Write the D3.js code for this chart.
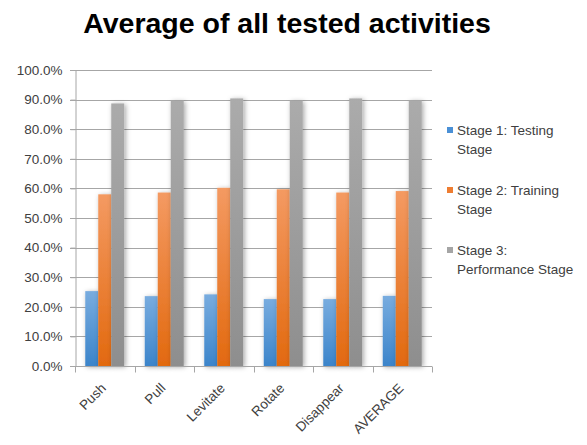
<!DOCTYPE html>
<html>
<head>
<meta charset="utf-8">
<script src="https://cdn.jsdelivr.net/npm/d3@7"></script>
<style>
  body { margin: 0; background: #fff; }
  text { font-family: "Liberation Sans", Arial, sans-serif; }
</style>
</head>
<body>
<div id="chartArea"></div>
<script>
// data
const categories = ["Push", "Pull", "Levitate", "Rotate", "Disappear", "AVERAGE"];
const seriesNames = ["Stage 1: Testing Stage", "Stage 2: Training Stage", "Stage 3: Performance Stage"];
const stage1 = [0.253, 0.236, 0.242, 0.226, 0.226, 0.237];
const stage2 = [0.580, 0.586, 0.602, 0.597, 0.586, 0.591];
const stage3 = [0.887, 0.896, 0.904, 0.896, 0.904, 0.897];
const yTicks = [0, 0.1, 0.2, 0.3, 0.4, 0.5, 0.6, 0.7, 0.8, 0.9, 1.0];
const legendLines = [["Stage 1: Testing", "Stage"], ["Stage 2: Training", "Stage"], ["Stage 3:", "Performance Stage"]];

const allSeries = [stage1, stage2, stage3];

//color pallete
const grid = "#a6a6a6";
const txt = "#404040";
const grads = [
  ["#78acdf", "#3b84ca"],
  ["#f49a62", "#e2690f"],
  ["#ababab", "#8e8e8e"]
];
const legendColors = ["#4a90d6", "#ee7d31", "#a5a5a5"];

const W = 587, H = 445;
const mLeft = 75, mRight = 432, mTop = 70, mBottom = 366;

const svg = d3.select("#chartArea").append("svg")
  .attr("width", W)
  .attr("height", H);

const defs = svg.append("defs");
grads.forEach((g, i) => {
  const lg = defs.append("linearGradient")
    .attr("id", "grad" + i)
    .attr("x1", 0).attr("y1", 0).attr("x2", 0).attr("y2", 1);
  lg.append("stop").attr("offset", "0%").attr("stop-color", g[0]);
  lg.append("stop").attr("offset", "100%").attr("stop-color", g[1]);
});
defs.append("filter")
  .attr("id", "shadow")
  .attr("x", "-60%").attr("y", "-10%").attr("width", "220%").attr("height", "120%")
  .append("feDropShadow")
    .attr("dx", 1.5).attr("dy", 1)
    .attr("stdDeviation", 2.5)
    .attr("flood-color", "#000")
    .attr("flood-opacity", 0.35);

// title
svg.append("text")
  .attr("x", 287)
  .attr("y", 33)
  .attr("text-anchor", "middle")
  .attr("font-size", "28.5px")
  .attr("font-weight", "bold")
  .attr("fill", "#000")
  .text("Average of all tested activities");

// scales
const x0 = d3.scaleBand().domain(categories).range([mLeft, mRight]).padding(0);
const x1 = d3.scaleBand().domain(d3.range(3)).range([0, x0.bandwidth()])
  .paddingInner(0).paddingOuter(0.79);
const y = d3.scaleLinear().domain([0, 1]).range([mBottom, mTop]);

// gridlines
svg.append("g").selectAll("line")
  .data(yTicks)
  .enter()
  .append("line")
    .attr("x1", mLeft - 5)
    .attr("x2", mRight)
    .attr("y1", d => Math.round(y(d)) + 0.5)
    .attr("y2", d => Math.round(y(d)) + 0.5)
    .attr("stroke", grid)
    .attr("stroke-width", 1);

// y axis
const yAxis = svg.append("g")
  .attr("transform", `translate(${mLeft + 0.5},0)`)
  .call(d3.axisLeft(y).tickValues(yTicks).tickFormat(d3.format(".1%")).tickSize(5).tickPadding(8));
yAxis.select(".domain").attr("stroke", grid);
yAxis.selectAll(".tick line").attr("stroke", grid);
yAxis.selectAll(".tick text")
  .attr("font-size", "13.5px")
  .attr("fill", txt)
  .attr("font-family", "Liberation Sans, Arial, sans-serif");

// bars
const groups = svg.append("g").selectAll("g")
  .data(categories)
  .enter()
  .append("g")
    .attr("transform", d => `translate(${x0(d)},0)`);

groups.selectAll("rect")
  .data((d, i) => allSeries.map((s, k) => ({ k: k, v: s[i] })))
  .enter()
  .append("rect")
    .attr("x", d => x1(d.k))
    .attr("y", d => y(d.v))
    .attr("width", x1.bandwidth())
    .attr("height", d => y(0) - y(d.v))
    .attr("fill", d => `url(#grad${d.k})`)
    .attr("filter", "url(#shadow)");

// x axis
const xAxis = svg.append("g")
  .attr("transform", `translate(0,${mBottom + 0.5})`);
xAxis.append("line")
  .attr("x1", mLeft).attr("x2", mRight)
  .attr("stroke", grid);
xAxis.selectAll("line.tk")
  .data(categories.concat(["end"]))
  .enter()
  .append("line")
    .attr("class", "tk")
    .attr("x1", (d, i) => Math.round(mLeft + i * x0.bandwidth()) + 0.5)
    .attr("x2", (d, i) => Math.round(mLeft + i * x0.bandwidth()) + 0.5)
    .attr("y1", 0)
    .attr("y2", 6)
    .attr("stroke", grid);

svg.append("g").selectAll("text")
  .data(categories)
  .enter()
  .append("text")
    .attr("transform", d => `translate(${x0(d) + x0.bandwidth() / 2 + 2},389) rotate(-45)`)
    .attr("text-anchor", "end")
    .attr("font-size", "13.5px")
    .attr("fill", txt)
    .text(d => d);

// legend
const legend = svg.append("g").selectAll("g")
  .data(seriesNames)
  .enter()
  .append("g")
    .attr("transform", (d, i) => `translate(447,${130 + i * 60})`);

legend.append("rect")
  .attr("x", 0)
  .attr("y", -3)
  .attr("width", 6)
  .attr("height", 6)
  .attr("fill", (d, i) => legendColors[i]);

legend.append("text")
  .attr("x", 10)
  .attr("y", 5)
  .attr("font-size", "13.5px")
  .attr("fill", txt)
  .selectAll("tspan")
  .data((d, i) => legendLines[i])
  .enter()
  .append("tspan")
    .attr("x", 10)
    .attr("dy", (d, j) => j === 0 ? 0 : 19)
    .text(d => d);
</script>
</body>
</html>
